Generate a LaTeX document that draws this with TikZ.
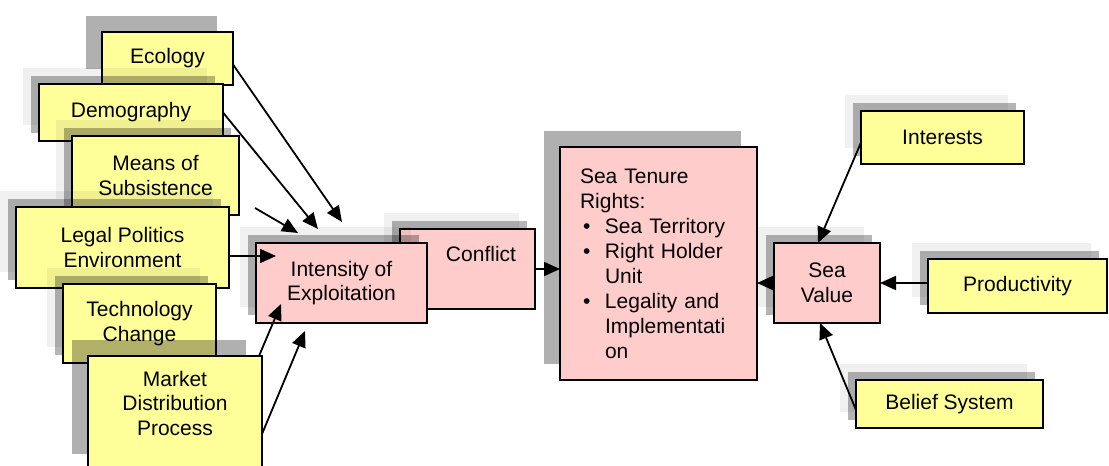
\documentclass[tikz,border=0pt]{standalone}
\usepackage{fontspec}
\setmainfont{Liberation Sans}
\usetikzlibrary{arrows.meta,shadows}

\definecolor{factoryellow}{HTML}{FFFF99}
\definecolor{effectpink}{HTML}{FFCCCC}

\tikzset{
  wh/.style 2 args={minimum width=#1*0.5pt, minimum height=#2*0.5pt},
  cbox/.style={draw, line width=0.9pt, inner sep=0pt, outer sep=0pt, align=center,
    font=\fontsize{10.5}{12.3}\selectfont},
  factor/.style={cbox, fill=factoryellow},
  effect/.style={cbox, fill=effectpink},
  shadowone/.style={general shadow={fill=black, opacity=.31, shadow xshift=-8pt, shadow yshift=8pt}},
  shadowtwo/.style={general shadow={fill=black, opacity=.06, shadow xshift=-8pt, shadow yshift=8pt},
    general shadow={fill=black, opacity=.29, shadow xshift=-4pt, shadow yshift=4pt}},
  link/.style={-{Triangle[length=8pt,width=7pt]}, line width=0.9pt}
}
\newcommand{\bulletitem}{\hspace*{1.5pt}\makebox[11pt][l]{\textbullet}}

\begin{document}
\begin{tikzpicture}[x=0.5pt,y=-0.5pt]
\useasboundingbox (0,0) rectangle (1109,466);

% factors on the left
\node[factor,shadowone,wh={131}{53}] (ecology) at (167.5,58.5) {Ecology};
\node[factor,shadowtwo,wh={184}{57}] (demography) at (131,112.5) {Demography};
\node[factor,shadowtwo,wh={167}{79}] (means) at (155.5,175.5) {Means of\\Subsistence};
\node[factor,shadowtwo,wh={213}{81}] (legal) at (122.5,247.5) {Legal Politics\\Environment};
\node[factor,shadowtwo,wh={153}{79}] (technology) at (139.5,323.5) {Technology\\Change};
\node[factor,shadowone,wh={174}{114},text depth=10pt] (market) at (175,413) {Market\\Distribution\\Process};

% middle
\node[effect,shadowtwo,wh={135}{80},
  label={[anchor=center,xshift=6.75pt,yshift=-12.5pt,font=\fontsize{10.5}{12.3}\selectfont]north:Conflict}] (conflict) at (467.5,269) {};
\node[effect,shadowtwo,wh={171}{80}] (intensity) at (341.5,283) {Intensity of\\Exploitation};
\node[effect,shadowone,wh={197}{233},text width=78.5pt,align=left,font=\fontsize{10.5}{12.5}\selectfont] (tenure) at (658.5,263.5)
  {Sea Tenure\\Rights:\\
   \bulletitem Sea Territory\\
   \bulletitem Right Holder\\
   \hspace*{12.5pt}Unit\\
   \bulletitem Legality and\\
   \hspace*{12.5pt}Implementati\\
   \hspace*{12.5pt}on};
\node[effect,shadowtwo,wh={106}{80}] (seavalue) at (827,283) {Sea\\Value};

% factors on the right
\node[factor,shadowtwo,wh={163}{53}] (interests) at (942.5,137.5) {Interests};
\node[factor,shadowtwo,wh={179}{54}] (productivity) at (1017.5,286) {Productivity};
\node[factor,shadowtwo,wh={187}{48}] (belief) at (949.5,404) {Belief System};

% free ends
\coordinate (ecoend) at (342,222);
\coordinate (demend) at (318,229);
\coordinate (meansstart) at (255,208);
\coordinate (meansend) at (298,233);
\coordinate (legalend) at (276,256);
\coordinate (marketend) at (281,304);
\coordinate (marketendb) at (305,331);

\draw[link] ([yshift=-3pt]ecology.east) -- (ecoend);
\draw[link] (demography.east) -- (demend);
\draw[link] (meansstart) -- (meansend);
\draw[link] ([yshift=-4.25pt]legal.east) -- (legalend);
\draw[link] ([xshift=-1.5pt]market.north east) -- (marketend);
\draw[link] ([yshift=-10.5pt]market.east) -- (marketendb);

\draw[link] (conflict.east) -- (conflict.east -| tenure.west);
\draw[link] (seavalue.west) -- (seavalue.west -| tenure.east);
\draw[link] ([yshift=-2.5pt]interests.west) -- ([xshift=-4.5pt]seavalue.north);
\draw[link] (productivity.west |- seavalue.east) -- (seavalue.east);
\draw[link] ([yshift=-3pt]belief.west) -- ([xshift=-3.5pt]seavalue.south);
\end{tikzpicture}
\end{document}
